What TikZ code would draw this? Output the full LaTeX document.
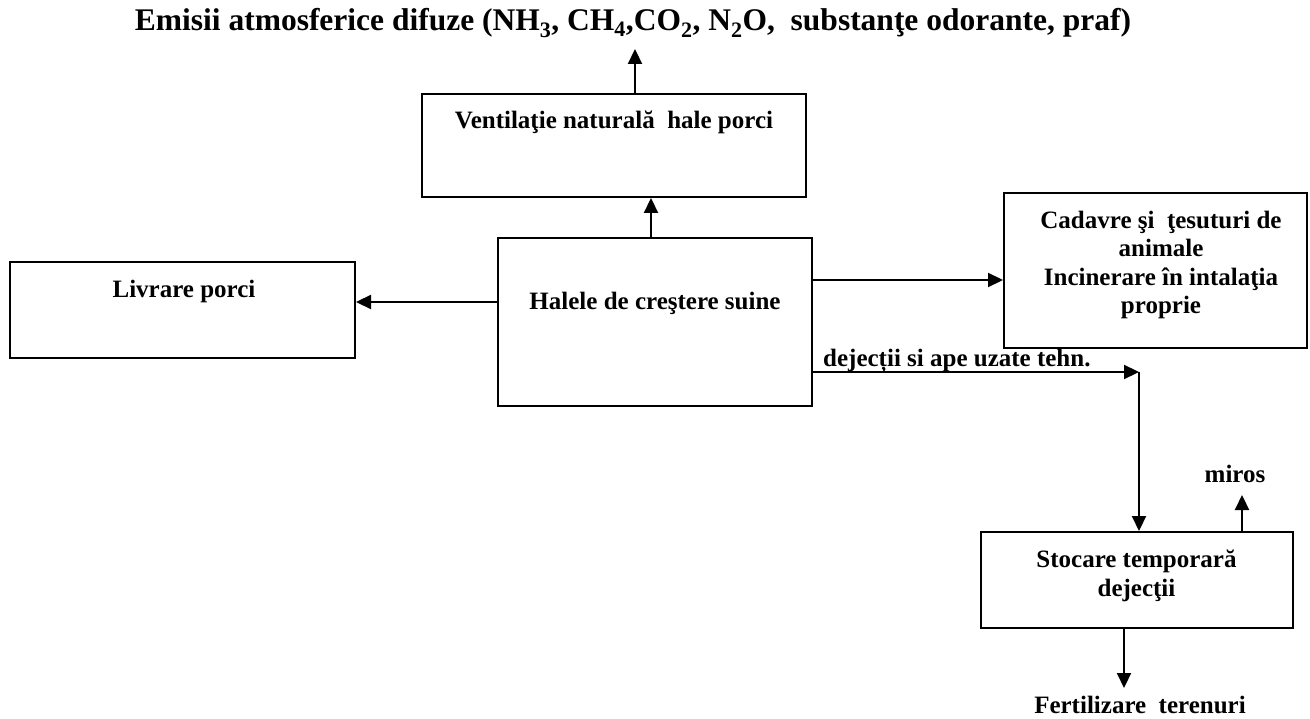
\documentclass[tikz,border=0pt]{standalone}
\usepackage{fontspec}
\setmainfont{Liberation Serif}
\usetikzlibrary{arrows.meta}
\tikzset{
  box/.style={draw, line width=2pt, inner sep=0pt, rectangle},
  txt/.style={inner sep=0pt, font=\fontsize{25}{28.5}\selectfont\bfseries, align=center},
  ttl/.style={inner sep=0pt, font=\fontsize{31.5}{36}\selectfont\bfseries},
  arr/.style={line width=2.2pt, -{Triangle[length=15pt,width=14pt]}}
}
\begin{document}
\begin{tikzpicture}[x=1pt,y=-1pt]
\useasboundingbox (0,0) rectangle (1310,719);
% boxes
\node[box, minimum width=384pt, minimum height=103pt] (vent) at (614,145.5) {};
\node[box, minimum width=345pt, minimum height=96pt] (liv) at (182.5,310) {};
\node[box, minimum width=314pt, minimum height=168pt] (hal) at (655,322) {};
\node[box, minimum width=303pt, minimum height=155pt] (cad) at (1155.5,270.5) {};
\node[box, minimum width=312pt, minimum height=96pt] (sto) at (1137,580) {};
% texts
\node[ttl, anchor=base] (title) at (633,31) {Emisii atmosferice difuze (NH\textsubscript{3}, CH\textsubscript{4},CO\textsubscript{2}, N\textsubscript{2}O,\ \ substanţe odorante, praf)};
\node[txt, anchor=base] (venttxt) at (614,129) {Ventilaţie naturală\ \ hale porci};
\node[txt, anchor=base] (livtxt) at (184,298) {Livrare porci};
\node[txt, anchor=base] (haltxt) at (655,310) {Halele de creştere suine};
\node[txt] (cadtxt) at (1161,265) {Cadavre şi\ \ ţesuturi de\\animale\\Incinerare în intalaţia\\proprie};
\node[txt, anchor=base west] (dejtxt) at (823,367) {dejecții si ape uzate tehn.};
\node[txt, font=\fontsize{25}{29.5}\selectfont\bfseries] (stotxt) at (1136.5,576) {Stocare temporară\\dejecţii};
\node[txt, anchor=base] (mirtxt) at (1235,482) {miros};
\node[txt, anchor=base] (fertxt) at (1140,713) {Fertilizare\ \ terenuri};
% free ends
\coordinate (emtip) at (635,49);
\coordinate (bend) at (1139,372);
\coordinate (mirtip) at (1242,495);
\coordinate (fertip) at (1124,688);
% connectors
\draw[arr] ([xshift=21pt]vent.north) -- (emtip);
\draw[arr] ([xshift=-4pt]hal.north) -- ([xshift=-4pt]hal.north |- vent.south);
\draw[arr] ([yshift=20pt]hal.west) -- ([yshift=20pt]hal.west -| liv.east);
\draw[arr] ([yshift=42pt]hal.east) -- ([yshift=42pt]hal.east -| cad.west);
\draw[arr] ([yshift=-50pt]hal.east) -- (bend);
\draw[arr] (bend) -- (bend |- sto.north);
\draw[arr] (mirtip |- sto.north) -- (mirtip);
\draw[arr] (fertip |- sto.south) -- (fertip);
\end{tikzpicture}
\end{document}
